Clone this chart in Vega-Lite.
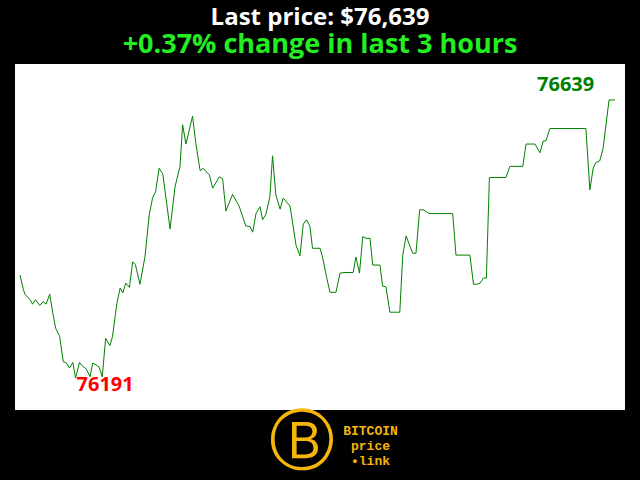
{
  "$schema": "https://vega.github.io/schema/vega-lite/v6.json",
  "width": 610,
  "height": 346,
  "autosize": {"type": "none"},
  "padding": {"left": 15, "top": 64, "right": 15, "bottom": 70},
  "background": "#000000",
  "config": {"view": {"fill": "#ffffff", "stroke": null}},
  "title": {
    "text": "Last price: $76,639",
    "subtitle": "+0.37% change in last 3 hours",
    "anchor": "middle",
    "color": "#ffffff",
    "font": "Open Sans",
    "fontWeight": "bold",
    "fontSize": 24,
    "subtitleColor": "#22ee22",
    "subtitleFont": "Open Sans",
    "subtitleFontWeight": "bold",
    "subtitleFontSize": 27,
    "subtitlePadding": 2,
    "offset": 6
  },
  "datasets": {
    "prices": [
      {"t": 0, "price": 76357}, {"t": 1.0, "price": 76334}, {"t": 1.5, "price": 76326}, {"t": 2.5, "price": 76320},
      {"t": 3.1, "price": 76317}, {"t": 3.8, "price": 76310}, {"t": 4.7, "price": 76317}, {"t": 6.0, "price": 76308},
      {"t": 7.0, "price": 76314}, {"t": 7.9, "price": 76310}, {"t": 9.0, "price": 76326}, {"t": 9.9, "price": 76296},
      {"t": 10.8, "price": 76271}, {"t": 12.0, "price": 76258}, {"t": 13.1, "price": 76217}, {"t": 13.9, "price": 76216},
      {"t": 15.0, "price": 76207}, {"t": 16.0, "price": 76216}, {"t": 16.8, "price": 76191}, {"t": 18.0, "price": 76216},
      {"t": 19.1, "price": 76209}, {"t": 20.0, "price": 76206}, {"t": 21.2, "price": 76193}, {"t": 22.0, "price": 76215},
      {"t": 23.0, "price": 76212}, {"t": 23.9, "price": 76209}, {"t": 24.9, "price": 76193}, {"t": 25.9, "price": 76255},
      {"t": 27.2, "price": 76243}, {"t": 28.0, "price": 76258}, {"t": 29.3, "price": 76311}, {"t": 30.3, "price": 76336},
      {"t": 31.1, "price": 76328}, {"t": 32.0, "price": 76344}, {"t": 33.1, "price": 76337}, {"t": 34.1, "price": 76378},
      {"t": 34.9, "price": 76374}, {"t": 36.3, "price": 76342}, {"t": 37.8, "price": 76386}, {"t": 39.1, "price": 76454},
      {"t": 40.1, "price": 76481}, {"t": 41.0, "price": 76491}, {"t": 42.1, "price": 76529}, {"t": 43.2, "price": 76520},
      {"t": 45.4, "price": 76431}, {"t": 46.9, "price": 76499}, {"t": 48.4, "price": 76532}, {"t": 49.2, "price": 76599},
      {"t": 50.2, "price": 76568}, {"t": 52.2, "price": 76613}, {"t": 53.2, "price": 76569}, {"t": 54.5, "price": 76525},
      {"t": 55.4, "price": 76529}, {"t": 57.3, "price": 76518}, {"t": 58.3, "price": 76497}, {"t": 60.3, "price": 76515},
      {"t": 61.3, "price": 76512}, {"t": 62.3, "price": 76460}, {"t": 64.3, "price": 76487}, {"t": 66.3, "price": 76468},
      {"t": 68.3, "price": 76436}, {"t": 69.6, "price": 76435}, {"t": 70.4, "price": 76426}, {"t": 71.4, "price": 76456},
      {"t": 72.6, "price": 76467}, {"t": 73.4, "price": 76446}, {"t": 74.4, "price": 76455}, {"t": 75.6, "price": 76483},
      {"t": 76.4, "price": 76549}, {"t": 77.4, "price": 76486}, {"t": 78.7, "price": 76463}, {"t": 79.6, "price": 76481},
      {"t": 81.7, "price": 76468}, {"t": 83.5, "price": 76405}, {"t": 84.7, "price": 76388}, {"t": 85.7, "price": 76439},
      {"t": 86.7, "price": 76446}, {"t": 87.7, "price": 76436}, {"t": 88.5, "price": 76400}, {"t": 90.8, "price": 76400},
      {"t": 91.6, "price": 76384}, {"t": 92.8, "price": 76352}, {"t": 93.8, "price": 76329}, {"t": 95.6, "price": 76329},
      {"t": 96.8, "price": 76360}, {"t": 98.3, "price": 76361}, {"t": 100.8, "price": 76361}, {"t": 101.6, "price": 76386},
      {"t": 102.7, "price": 76360}, {"t": 103.7, "price": 76419}, {"t": 104.7, "price": 76416}, {"t": 105.9, "price": 76416},
      {"t": 106.7, "price": 76373}, {"t": 108.9, "price": 76373}, {"t": 109.7, "price": 76339}, {"t": 110.7, "price": 76338},
      {"t": 111.9, "price": 76297}, {"t": 114.9, "price": 76297}, {"t": 115.8, "price": 76389}, {"t": 116.8, "price": 76420},
      {"t": 118.8, "price": 76392}, {"t": 119.8, "price": 76392}, {"t": 120.9, "price": 76462}, {"t": 122.0, "price": 76462},
      {"t": 123.8, "price": 76456}, {"t": 130.9, "price": 76456}, {"t": 131.9, "price": 76389}, {"t": 136.1, "price": 76389},
      {"t": 137.2, "price": 76342}, {"t": 138.2, "price": 76342}, {"t": 139.2, "price": 76344}, {"t": 140.2, "price": 76352},
      {"t": 141.1, "price": 76352}, {"t": 142.0, "price": 76514}, {"t": 147.0, "price": 76514}, {"t": 148.2, "price": 76532},
      {"t": 152.1, "price": 76532}, {"t": 153.1, "price": 76568}, {"t": 155.8, "price": 76568}, {"t": 157.3, "price": 76554},
      {"t": 158.3, "price": 76573}, {"t": 159.1, "price": 76573}, {"t": 160.3, "price": 76593}, {"t": 171.2, "price": 76593},
      {"t": 172.4, "price": 76494}, {"t": 173.4, "price": 76529}, {"t": 174.2, "price": 76538}, {"t": 175.4, "price": 76541},
      {"t": 176.4, "price": 76561}, {"t": 178.2, "price": 76639}, {"t": 180.0, "price": 76639}
    ],
    "extremes": [
      {"t": 178.2, "price": 76639, "kind": "max", "label": "76639"},
      {"t": 16.8, "price": 76191, "kind": "min", "label": "76191"}
    ]
  },
  "layer": [
    {
      "data": {"name": "prices"},
      "mark": {"type": "line", "color": "#008000", "strokeWidth": 1, "clip": true},
      "encoding": {
        "x": {
          "field": "t", "type": "quantitative",
          "scale": {"domain": [-1.51, 183.03], "nice": false, "zero": false},
          "axis": {
            "domain": false, "ticks": false, "grid": false,
            "values": [85.3],
            "labelExpr": "'Ⓑ'",
            "labelColor": "#f5b50a",
            "labelFont": "DejaVu Sans",
            "labelFontSize": 66,
            "labelBaseline": "middle",
            "labelPadding": 32,
            "labelFlush": false,
            "labelOverlap": false,
            "title": ["BITCOIN", "price", "•link"],
            "titleColor": "#f5b50a",
            "titleFont": "Liberation Mono",
            "titleFontWeight": "bold",
            "titleFontSize": 13,
            "titleLineHeight": 15,
            "titleBaseline": "top",
            "titleAlign": "center",
            "titleX": 355,
            "titleY": 14
          }
        },
        "y": {
          "field": "price", "type": "quantitative",
          "scale": {"domain": [76139.4, 76697], "nice": false, "zero": false},
          "axis": null
        }
      }
    },
    {
      "data": {"name": "extremes"},
      "transform": [{"filter": "datum.kind == 'max'"}],
      "mark": {"type": "text", "align": "left", "baseline": "alphabetic", "dx": -72, "dy": -9,
               "font": "Open Sans", "fontWeight": "bold", "fontSize": 20, "color": "#008000"},
      "encoding": {
        "x": {"field": "t", "type": "quantitative"},
        "y": {"field": "price", "type": "quantitative"},
        "text": {"field": "label"}
      }
    },
    {
      "data": {"name": "extremes"},
      "transform": [{"filter": "datum.kind == 'min'"}],
      "mark": {"type": "text", "align": "left", "baseline": "alphabetic", "dx": 1, "dy": 13,
               "font": "Open Sans", "fontWeight": "bold", "fontSize": 20, "color": "#ff0000"},
      "encoding": {
        "x": {"field": "t", "type": "quantitative"},
        "y": {"field": "price", "type": "quantitative"},
        "text": {"field": "label"}
      }
    }
  ]
}
